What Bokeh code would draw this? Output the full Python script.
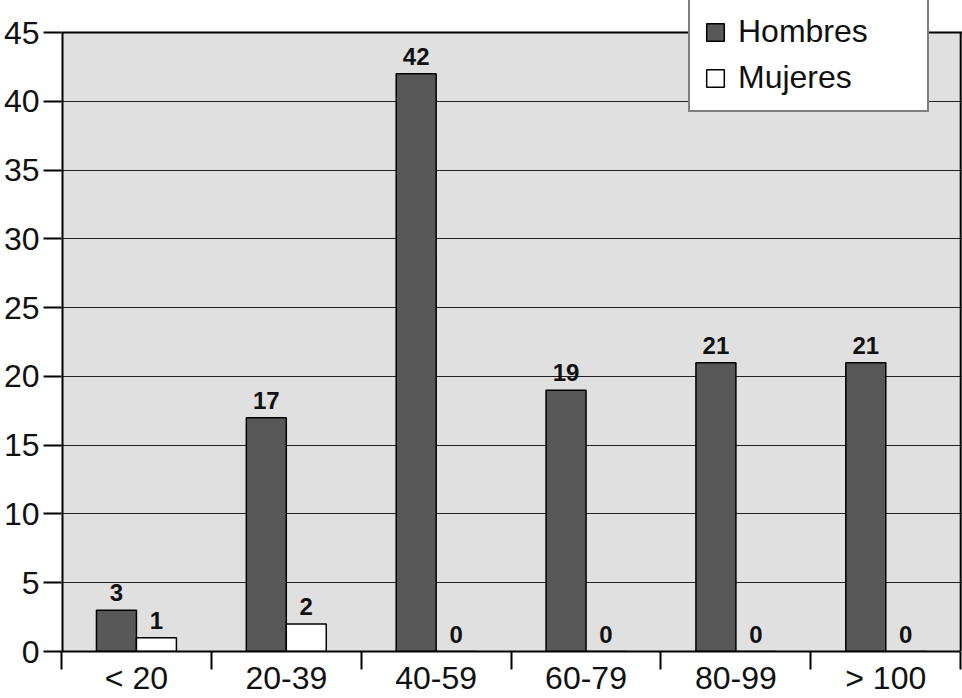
from bokeh.plotting import figure
from bokeh.models import (ColumnDataSource, FixedTicker, Legend, LegendItem, Range1d,
                          BoxAnnotation, Span)
from bokeh.core.properties import value
from bokeh.embed import file_html
from bokeh.resources import INLINE

categories = ["< 20", "20-39", "40-59", "60-79", "80-99", "> 100"]
hombres = [3, 17, 42, 19, 21, 21]
mujeres = [1, 2, 0, 0, 0, 0]
y_ticks = [0, 5, 10, 15, 20, 25, 30, 35, 40, 45]

FONT = "Liberation Sans"
n = len(categories)
bw = 0.2667
off = bw / 2
ymax = 45

p = figure(width=962, height=698, output_backend="svg", toolbar_location=None,
           x_range=Range1d(0, n + 0.012), y_range=Range1d(0, 47.33),
           min_border_left=60, min_border_right=0, min_border_top=0, min_border_bottom=30)
p.background_fill_color = "white"
p.border_fill_color = "white"
p.outline_line_color = None

# grey plotting box (0..45), beneath the grid
p.add_layout(BoxAnnotation(top=ymax, right=n, fill_color="#e0e0e0", fill_alpha=1.0,
                           line_color=None, level="image"))

xs_h = [i + 0.5 - off for i in range(n)]
xs_m = [i + 0.5 + off for i in range(n)]
src_h = ColumnDataSource(dict(x=xs_h, top=hombres, lab=[str(v) for v in hombres]))
src_m = ColumnDataSource(dict(x=xs_m, top=mujeres, lab=[str(v) for v in mujeres]))

rh = p.vbar(x="x", top="top", width=bw, bottom=0, source=src_h,
            fill_color="#585858", line_color="black", line_width=1.5)
rm = p.vbar(x="x", top="top", width=bw, bottom=0, source=src_m,
            fill_color="white", line_color="black", line_width=1.5)

for src in (src_h, src_m):
    p.text(x="x", y="top", text="lab", source=src, text_align="center",
           text_baseline="bottom", y_offset=-9, text_font=value(FONT),
           text_font_style="bold", text_font_size="24px", text_color="#111111")

# box border: top, left, right
p.add_layout(Span(location=ymax, dimension="width", line_color="black", line_width=2))
p.segment(x0=[0, n], y0=[0, 0], x1=[0, n], y1=[ymax, ymax],
          line_color="black", line_width=[4, 2])

# x axis: boundary ticks as minor ticks, labels at centers
p.xaxis.ticker = FixedTicker(ticks=[i + 0.5 for i in range(n)],
                             minor_ticks=list(range(n + 1)))
p.xaxis.bounds = (0, n)
p.xaxis.major_label_overrides = {i + 0.5: c for i, c in enumerate(categories)}
p.xaxis.major_tick_out = 0
p.xaxis.major_tick_in = 0
p.xaxis.minor_tick_out = 18
p.xaxis.minor_tick_in = 0
p.xaxis.minor_tick_line_color = "black"
p.xaxis.minor_tick_line_width = 2
p.xaxis.axis_line_width = 2
p.xaxis.axis_line_color = "black"
p.xaxis.major_label_standoff = -10
p.xaxis.major_label_text_font = FONT
p.xaxis.major_label_text_font_size = "32px"
p.xaxis.major_label_text_color = "#111111"

p.yaxis.ticker = FixedTicker(ticks=y_ticks, minor_ticks=[])
p.yaxis.bounds = (0, ymax)
p.yaxis.major_tick_out = 18
p.yaxis.major_tick_in = 0
p.yaxis.major_tick_line_width = 2
p.yaxis.major_tick_line_color = "black"
p.yaxis.axis_line_color = None
p.yaxis.major_label_standoff = 4
p.yaxis.major_label_text_font = FONT
p.yaxis.major_label_text_font_size = "32px"
p.yaxis.major_label_text_color = "#111111"

p.xgrid.grid_line_color = None
p.ygrid.ticker = FixedTicker(ticks=y_ticks)
p.ygrid.grid_line_color = "#222222"
p.ygrid.grid_line_width = 1

legend = Legend(items=[LegendItem(label="Hombres", renderers=[rh]),
                       LegendItem(label="Mujeres", renderers=[rm])],
                location=(627, 539))
legend.label_text_font = FONT
legend.label_text_font_size = "32px"
legend.label_text_color = "#111111"
legend.glyph_width = 22
legend.glyph_height = 22
legend.label_standoff = 12
legend.label_width = 175
legend.spacing = 9
legend.padding = 14
legend.margin = 0
legend.border_line_color = "black"
legend.border_line_width = 2
legend.background_fill_color = "white"
legend.background_fill_alpha = 1.0
p.add_layout(legend, "center")

open("out.html", "w").write(file_html(p, INLINE))
